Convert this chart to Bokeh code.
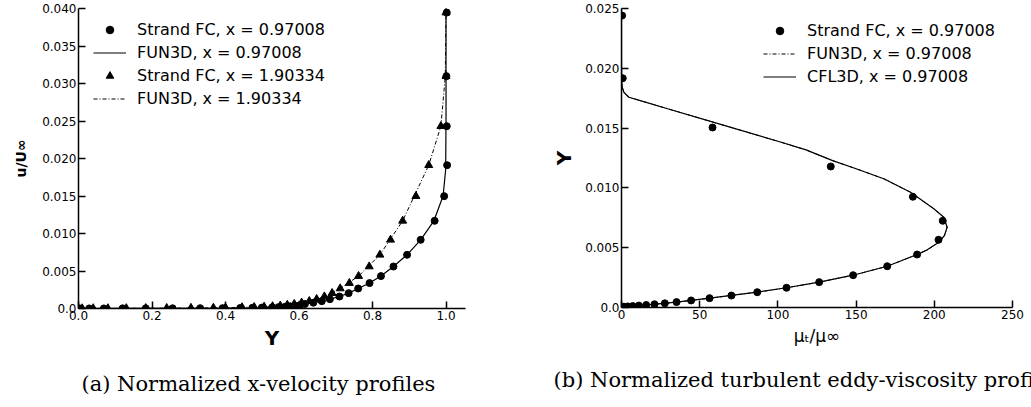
from bokeh.plotting import figure
from bokeh.models import Range1d, FixedTicker, Legend, LegendItem, Title
from bokeh.layouts import row
from bokeh.embed import file_html
from bokeh.resources import INLINE

# ---------------- Panel (a): normalized x-velocity profiles ----------------
a_sfc1_Y = [0.004, 0.029, 0.069, 0.120, 0.183, 0.256, 0.331, 0.392, 0.440, 0.473,
            0.499, 0.527, 0.544, 0.562, 0.576, 0.589, 0.603, 0.616, 0.639, 0.662,
            0.684, 0.710, 0.735, 0.761, 0.792, 0.823, 0.857, 0.894, 0.931, 0.969,
            0.995, 1.003, 1.002, 1.001, 1.002]
a_sfc1_u = [0.0, 0.00001, 0.00001, 0.00002, 0.00002, 0.00003, 0.00004, 0.00005, 0.00007, 0.00009,
            0.00012, 0.00015, 0.00018, 0.00023, 0.00029, 0.00037, 0.00047, 0.00060, 0.00077, 0.00098,
            0.00125, 0.00160, 0.00205, 0.00267, 0.00339, 0.00432, 0.00560, 0.00716, 0.00916, 0.01169,
            0.01498, 0.01911, 0.02431, 0.03098, 0.03946]

a_sfc2_Y = [0.0, 0.010, 0.040, 0.080, 0.130, 0.183, 0.240, 0.306, 0.367, 0.400,
            0.445, 0.478, 0.505, 0.528, 0.549, 0.568, 0.587, 0.607, 0.628, 0.648,
            0.669, 0.690, 0.712, 0.737, 0.762, 0.791, 0.820, 0.849, 0.882, 0.918,
            0.953, 0.986, 1.000, 1.000]
a_sfc2_u = [0.0, 0.00001, 0.00002, 0.00002, 0.00003, 0.00004, 0.00005, 0.00007, 0.00009, 0.00012,
            0.00015, 0.00018, 0.00023, 0.00029, 0.00037, 0.00047, 0.00060, 0.00077, 0.00098, 0.00125,
            0.00160, 0.00205, 0.00267, 0.00339, 0.00432, 0.00560, 0.00716, 0.00916, 0.01169, 0.01498,
            0.01911, 0.02431, 0.03098, 0.03946]

a_fun1_Y = [0.0, 0.12, 0.26, 0.39, 0.47, 0.53, 0.575, 0.605, 0.64, 0.663, 0.685, 0.71,
            0.735, 0.761, 0.792, 0.823, 0.857, 0.894, 0.931, 0.967, 0.992, 0.999, 1.0, 1.0]
a_fun1_u = [0.0, 0.00001, 0.00003, 0.00005, 0.00009, 0.00015, 0.00029, 0.00047, 0.00077, 0.00098,
            0.00125, 0.0016, 0.00205, 0.00267, 0.00339, 0.00432, 0.0056, 0.00716, 0.00916, 0.01169,
            0.015, 0.0185, 0.025, 0.0395]

a_fun2_Y = [0.0, 0.13, 0.24, 0.37, 0.445, 0.505, 0.549, 0.587, 0.628, 0.669, 0.712, 0.762,
            0.820, 0.882, 0.953, 0.986, 0.998, 1.0]
a_fun2_u = [0.0, 0.00003, 0.00005, 0.00009, 0.00015, 0.00023, 0.00037, 0.0006, 0.00098, 0.0016,
            0.00267, 0.00432, 0.00716, 0.01169, 0.01911, 0.02431, 0.03098, 0.0395]

a_xticks = [0.0, 0.2, 0.4, 0.6, 0.8, 1.0]
a_xlabels = ["0.0", "0.2", "0.4", "0.6", "0.8", "1.0"]
a_yticks = [0.0, 0.005, 0.010, 0.015, 0.020, 0.025, 0.030, 0.035, 0.040]
a_ylabels = ["0.0", "0.005", "0.010", "0.015", "0.020", "0.025", "0.030", "0.035", "0.040"]
a_xtitle = "Y"
a_ytitle = "u/U∞"
a_legend = ["Strand FC, x = 0.97008", "FUN3D, x = 0.97008",
            "Strand FC, x = 1.90334", "FUN3D, x = 1.90334"]
a_caption = "(a) Normalized x-velocity profiles"

# ---------------- Panel (b): normalized turbulent eddy viscosity ----------------
b_sfc_mu = [0.0, 1.5, 4.0, 7.2, 11.1, 15.8, 21.1, 27.7, 35.2, 44.5,
            56.3, 70.3, 86.8, 105.5, 126.4, 148.1, 169.9, 189.0, 202.7, 205.4,
            186.3, 133.8, 58.2, 0.8, 0.4]
b_sfc_Y = [0.0, 0.00007, 0.00009, 0.00012, 0.00016, 0.00021, 0.00027, 0.00035, 0.00045, 0.00059,
           0.00078, 0.00100, 0.00128, 0.00165, 0.00212, 0.00270, 0.00345, 0.00443, 0.00566, 0.00725,
           0.00926, 0.01179, 0.01505, 0.01917, 0.02441]

b_cfl_mu = [0.0, 4.0, 11.1, 21.1, 35.2, 56.3, 86.8, 105.5, 126.4, 148.1,
            169.9, 189.0, 195.5, 202.9, 206.5, 208.2, 206.1, 199.7, 184.8, 167.7,
            150.0, 135.0, 118.0, 100.0, 58.0, 30.0, 12.0, 4.7, 1.5, 0.5, 0.1, 0.0, 0.0]
b_cfl_Y = [0.0, 0.00009, 0.00016, 0.00027, 0.00045, 0.00078, 0.00128, 0.00165, 0.00212, 0.00270,
           0.00345, 0.00443, 0.00482, 0.00546, 0.00602, 0.00671, 0.00755, 0.00825, 0.00964, 0.01076,
           0.01160, 0.01228, 0.01318, 0.01390, 0.01552, 0.01660, 0.01730, 0.01758, 0.01800, 0.01840,
           0.01900, 0.02100, 0.02500]

b_fun_mu = [0.0, 4.0, 11.1, 21.1, 35.2, 56.3, 86.8, 105.5, 126.4, 148.1,
            169.9, 189.0, 195.5, 202.9, 206.5, 208.2, 206.1, 199.7, 184.8, 167.7,
            150.0, 135.0, 118.0, 100.0, 58.0, 30.0, 12.0, 4.7, 1.5, 0.5, 0.1, 0.0, 0.0]
b_fun_Y = [0.0, 0.00009, 0.00016, 0.00027, 0.00045, 0.00078, 0.00128, 0.00165, 0.00212, 0.00270,
           0.00345, 0.00443, 0.00482, 0.00546, 0.00602, 0.00671, 0.00755, 0.00825, 0.00964, 0.01076,
           0.01160, 0.01228, 0.01318, 0.01390, 0.01552, 0.01660, 0.01730, 0.01758, 0.01800, 0.01840,
           0.01900, 0.02100, 0.02500]

b_xticks = [0, 50, 100, 150, 200, 250]
b_xlabels = ["0", "50", "100", "150", "200", "250"]
b_yticks = [0.0, 0.005, 0.010, 0.015, 0.020, 0.025]
b_ylabels = ["0.0", "0.005", "0.010", "0.015", "0.020", "0.025"]
b_xtitle = "μₜ/μ∞"
b_ytitle = "Y"
b_legend = ["Strand FC, x = 0.97008", "FUN3D, x = 0.97008", "CFL3D, x = 0.97008"]
b_caption = "(b) Normalized turbulent eddy-viscosity profiles"

FONT = "DejaVu Sans"
DASHDOT = "4 2 1 2"


def style_axes(p, xticks, xlabels, yticks, ylabels):
    p.xgrid.visible = False
    p.ygrid.visible = False
    p.outline_line_color = None
    p.xaxis.ticker = FixedTicker(ticks=xticks)
    p.yaxis.ticker = FixedTicker(ticks=yticks)
    p.xaxis.major_label_overrides = {t: l for t, l in zip(xticks, xlabels)}
    p.yaxis.major_label_overrides = {t: l for t, l in zip(yticks, ylabels)}
    for ax in (p.xaxis[0], p.yaxis[0]):
        ax.axis_line_color = "black"
        ax.axis_line_width = 1.5
        ax.major_tick_line_color = "black"
        ax.major_tick_line_width = 1.5
        ax.major_tick_in = 7
        ax.major_tick_out = 0
        ax.minor_tick_line_color = None
        ax.major_label_text_font = FONT
        ax.major_label_text_font_size = "12px"
        ax.major_label_text_color = "black"
        ax.major_label_standoff = 2
        ax.axis_label_text_font = FONT
        ax.axis_label_text_font_style = "bold"
        ax.axis_label_text_font_size = "20px"
        ax.axis_label_text_color = "black"


def make_legend(items, location):
    return Legend(items=items, location=location, label_text_font=FONT,
                  label_text_font_size="16px", label_text_color="black",
                  glyph_width=33, glyph_height=19, label_height=19, spacing=4,
                  padding=0, margin=0, label_standoff=11,
                  border_line_color=None, background_fill_alpha=0)


def caption(text, offset):
    return Title(text=text, align="left", offset=offset, standoff=35,
                 text_font="DejaVu Serif", text_font_size="21px",
                 text_font_style="normal", text_color="black")


# ---------- figure (a) ----------
p1 = figure(output_backend="svg", toolbar_location=None,
            frame_width=387, frame_height=300,
            min_border_left=78, min_border_right=55, min_border_top=8, min_border_bottom=99,
            x_range=Range1d(0, 1.053), y_range=Range1d(0, 0.040))
style_axes(p1, a_xticks, a_xlabels, a_yticks, a_ylabels)
p1.xaxis.axis_label = a_xtitle
p1.xaxis.axis_label_standoff = 3
p1.yaxis.axis_label = a_ytitle
p1.yaxis.axis_label_text_font_size = "14px"
p1.yaxis.axis_label_standoff = 10

r_a1 = p1.line(a_fun1_Y, a_fun1_u, line_color="black", line_width=1.2)
r_a2 = p1.line(a_fun2_Y, a_fun2_u, line_color="black", line_width=1.0, line_dash=DASHDOT)
r_a3 = p1.scatter(a_sfc1_Y, a_sfc1_u, marker="circle", size=7, fill_color="black", line_color="black")
r_a4 = p1.scatter(a_sfc2_Y, a_sfc2_u, marker="triangle", size=8, fill_color="black", line_color="black")

leg1 = make_legend([LegendItem(label=a_legend[0], renderers=[r_a3]),
                    LegendItem(label=a_legend[1], renderers=[r_a1]),
                    LegendItem(label=a_legend[2], renderers=[r_a4]),
                    LegendItem(label=a_legend[3], renderers=[r_a2])], (15, 200))
p1.add_layout(leg1, "center")
p1.add_layout(caption(a_caption, 3), "below")

# ---------- figure (b) ----------
p2 = figure(output_backend="svg", toolbar_location=None,
            frame_width=391, frame_height=299,
            min_border_left=101, min_border_right=19, min_border_top=8, min_border_bottom=100,
            x_range=Range1d(0, 250), y_range=Range1d(0, 0.025))
style_axes(p2, b_xticks, b_xlabels, b_yticks, b_ylabels)
p2.yaxis.axis_label = b_ytitle
p2.yaxis.axis_label_standoff = 6
p2.xaxis.axis_label = b_xtitle
p2.xaxis.axis_label_text_font_style = "normal"
p2.xaxis.axis_label_text_font_size = "17px"
p2.xaxis.axis_label_standoff = 4

r_b1 = p2.line(b_fun_mu, b_fun_Y, line_color="black", line_width=1.0, line_dash=DASHDOT)
r_b2 = p2.line(b_cfl_mu, b_cfl_Y, line_color="black", line_width=1.2)
r_b3 = p2.scatter(b_sfc_mu, b_sfc_Y, marker="circle", size=7, fill_color="black", line_color="black")

leg2 = make_legend([LegendItem(label=b_legend[0], renderers=[r_b3]),
                    LegendItem(label=b_legend[1], renderers=[r_b1]),
                    LegendItem(label=b_legend[2], renderers=[r_b2])], (142, 221))
p2.add_layout(leg2, "center")
p2.add_layout(caption(b_caption, -68), "below")

layout = row(p1, p2)

open("out.html", "w").write(file_html(layout, INLINE))
